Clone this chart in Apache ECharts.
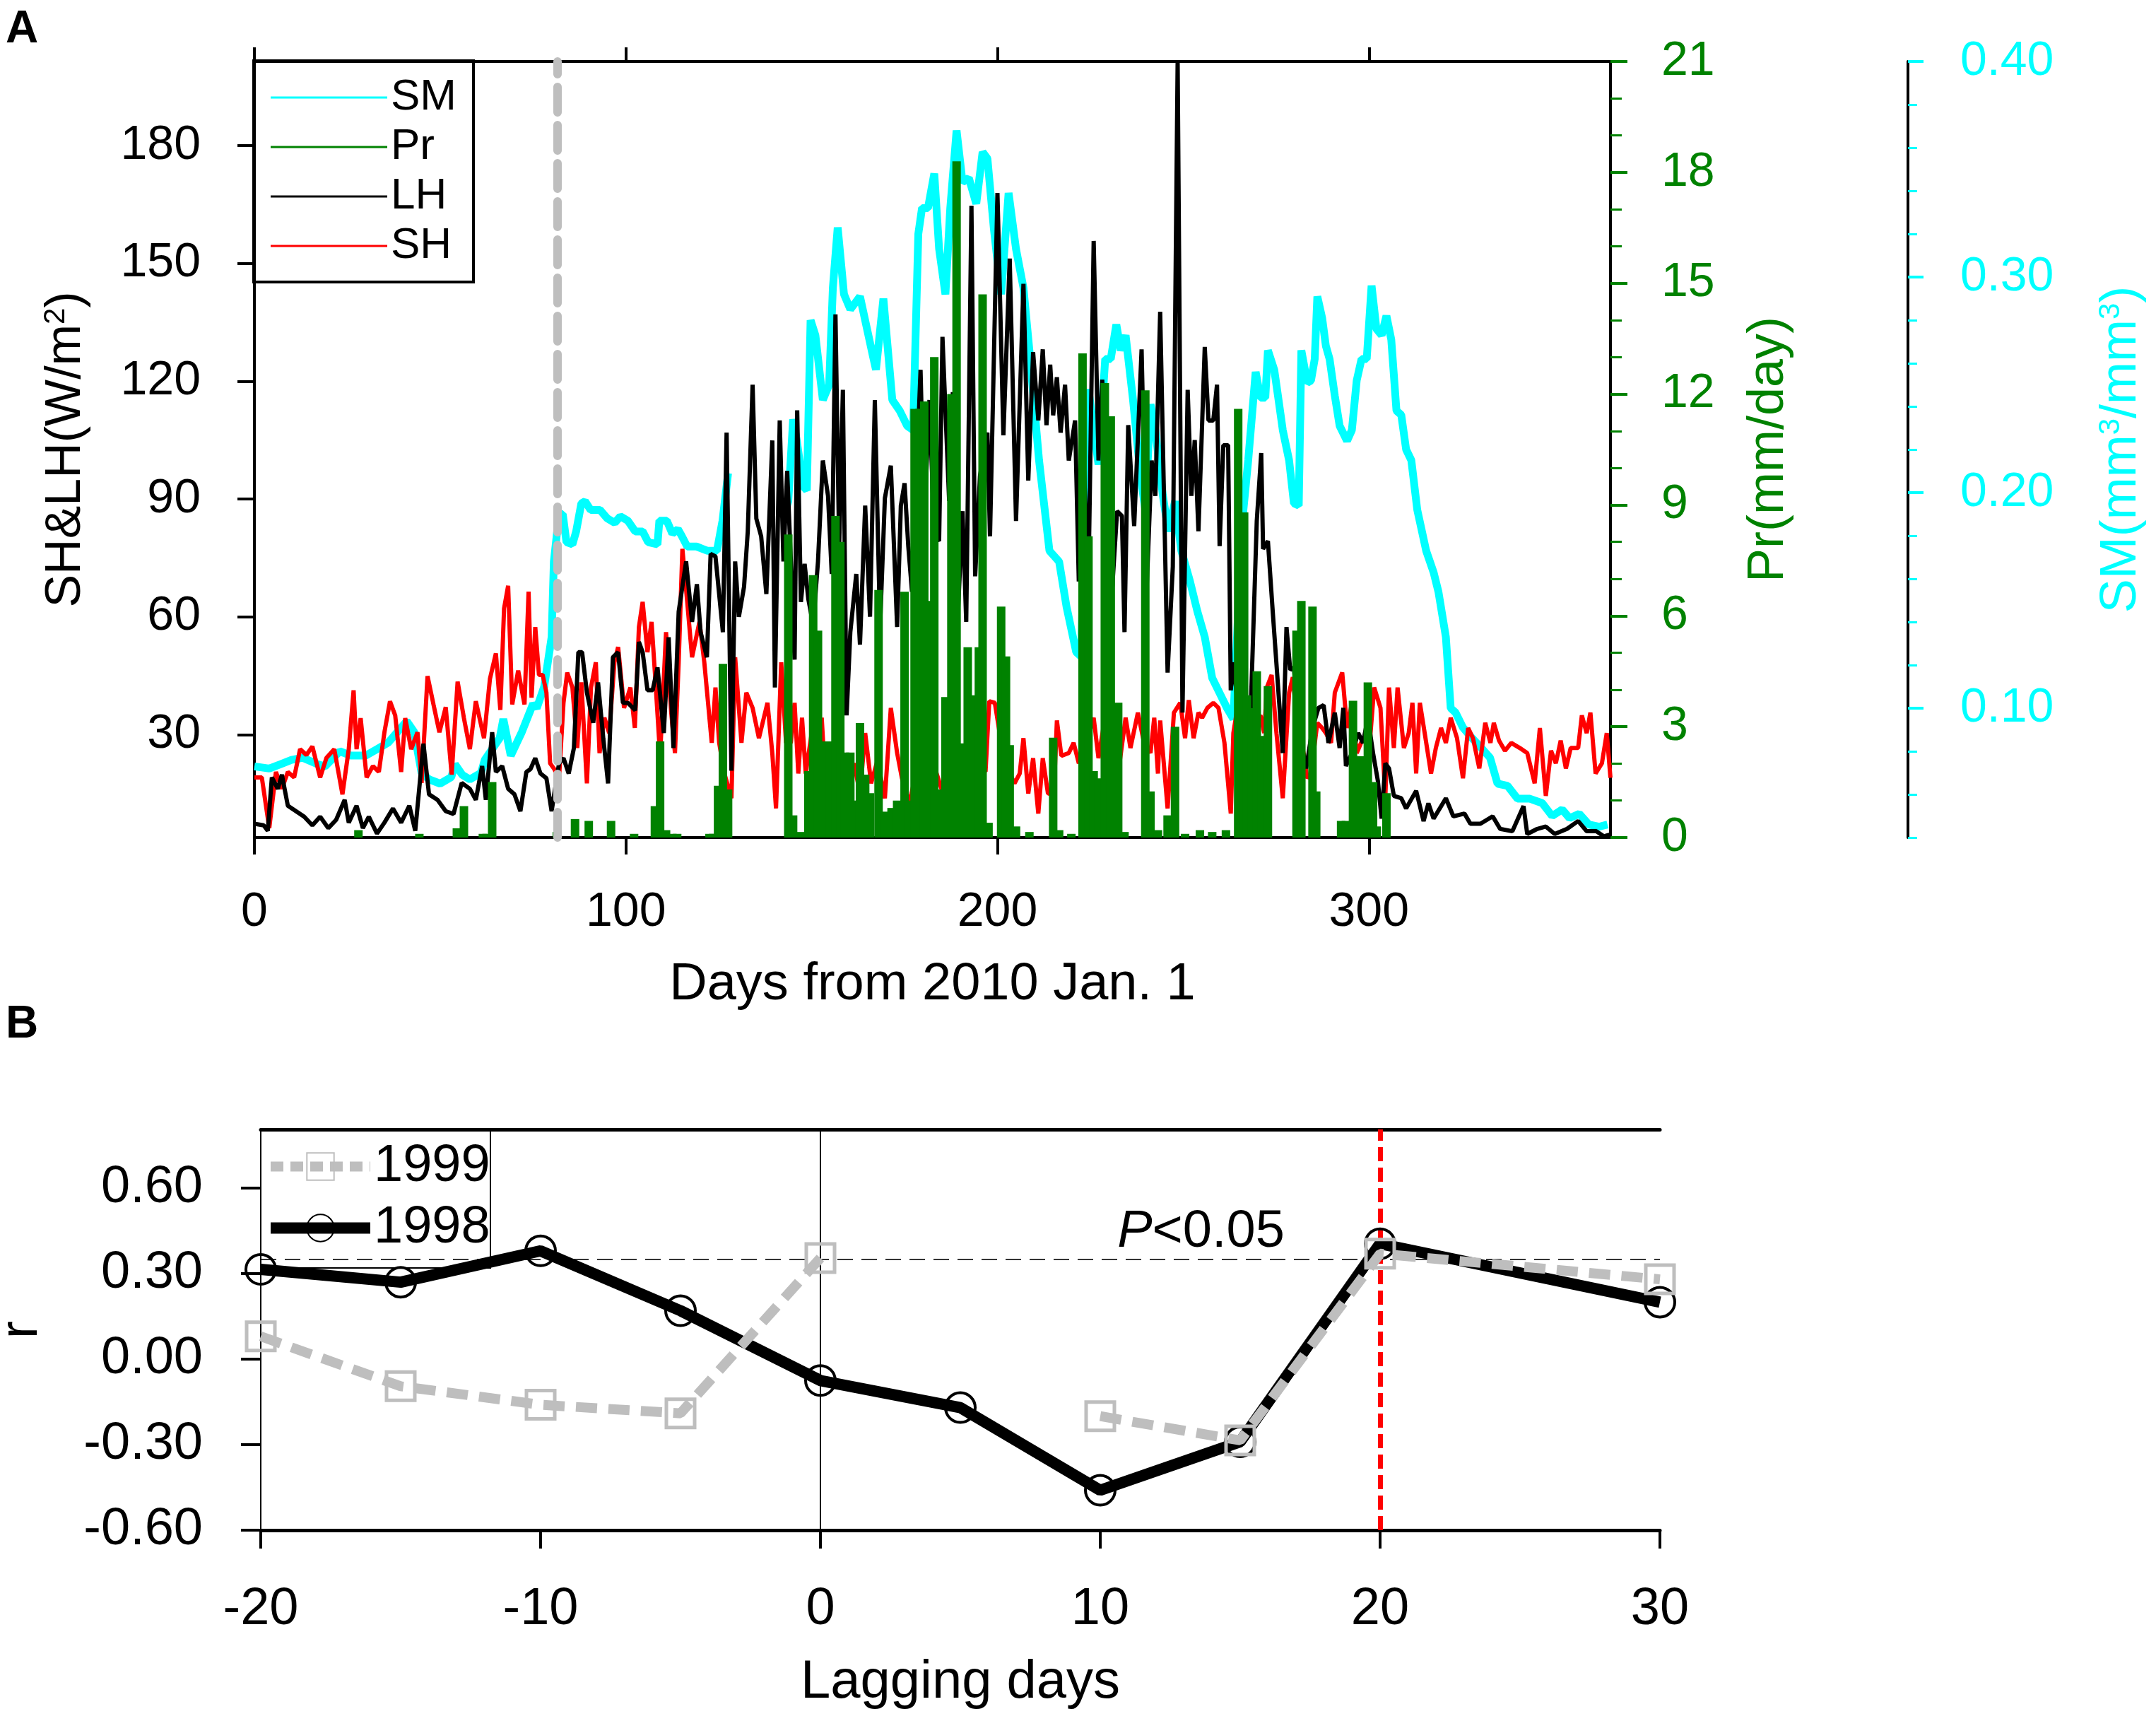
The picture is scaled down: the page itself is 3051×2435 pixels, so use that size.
<!DOCTYPE html>
<html lang="en">
<head>
<meta charset="UTF-8">
<title>SH, LH, SM and Pr</title>
<script src="https://cdn.jsdelivr.net/npm/echarts@6/dist/echarts.min.js"></script>
<style>
	html, body { margin: 0; padding: 0; background: #fff; }
	#main { width: 3051px; height: 2435px; }
</style>
</head>
<body>
<div id="main"></div>
<script>
// ---- panel A : daily series, [day, value] ----
var smData = [
	[0,0.073],[4,0.072],[7,0.074],[10,0.076],[13,0.077],[17,0.074],[19,0.073],[23,0.080],[26,0.078],[30,0.078],
	[33,0.081],[36,0.084],[41,0.094],[43,0.089],[45,0.070],[47,0.067],[50,0.065],[53,0.068],[54,0.074],[56,0.069],
	[58,0.067],[61,0.070],[62,0.076],[66,0.086],[67,0.095],[69,0.078],[72,0.089],[75,0.102],[76,0.100],[78,0.110],
	[80,0.133],[80.6,0.168],[82,0.190],[83,0.190],[84,0.177],[85.6,0.176],[86.6,0.182],[88,0.195],[89,0.196],[90.5,0.192],
	[93,0.192],[95,0.188],[97,0.186],[98.5,0.189],[100.5,0.187],[102.5,0.182],[104.5,0.182],[106,0.177],[108.5,0.176],[109,0.187],
	[111,0.187],[112.5,0.181],[114,0.183],[115,0.180],[116.5,0.175],[119,0.175],[120.5,0.174],[122,0.173],[124.5,0.173],[126,0.187],
	[127.5,0.209],[135,'-'],
	[142.4,0.189],[143.7,0.196],[145,0.234],[146,0.224],[147.7,0.203],[148.7,0.201],[149.7,0.280],[151,0.273],[153,0.243],[154.7,0.250],
	[155.7,0.295],[157,0.323],[158.7,0.292],[160.4,0.285],[163,0.291],[166.4,0.264],[167.3,0.257],[169.3,0.290],[171.7,0.243],[173.7,0.238],
	[175.7,0.231],[177.3,0.229],[178.7,0.320],[179.7,0.332],[181.3,0.332],[183,0.348],[184.3,0.313],[186,0.292],[187.3,0.332],[189,0.368],
	[190.6,0.344],[192.3,0.346],[194.3,0.334],[196,0.358],[197.3,0.355],[199,0.323],[201,0.292],[203,0.339],[205,0.313],[207,0.295],
	[208.6,0.266],[211.2,0.215],[214,0.173],[216.6,0.168],[218.6,0.147],[221.2,0.126],[222.5,0.124],[224.5,0.248],[227.2,0.213],[229,0.262],
	[230.5,0.262],[232,0.278],[233.2,0.266],[234.5,0.273],[236.5,0.243],[238.5,0.208],[239.8,0.192],[241.2,0.241],[242.5,0.229],[244.5,0.199],
	[246,0.182],[247.8,0.196],[249.5,0.173],[251.8,0.159],[253.8,0.145],[255.8,0.133],[257.8,0.114],[259.8,0.107],[261.8,0.100],[263.5,0.095],
	[264.8,0.145],[266.2,0.192],[267.5,0.215],[269.5,0.256],[270.8,0.244],[272.1,0.244],[272.8,0.266],[274.5,0.257],[275.5,0.245],[276.8,0.229],
	[278.5,0.215],[279.8,0.195],[281.1,0.194],[281.8,0.266],[283.4,0.251],[284.4,0.252],[285.4,0.262],[286.1,0.291],[287.4,0.281],[288.4,0.268],
	[289.4,0.262],[290.8,0.245],[292.1,0.231],[294.1,0.224],[295.4,0.229],[296.7,0.252],[298,0.262],[299.4,0.262],[300.7,0.296],[302,0.276],
	[303.4,0.273],[304.7,0.282],[306,0.271],[307.4,0.238],[308.7,0.236],[310,0.220],[311.4,0.215],[313,0.192],[315.4,0.173],[317.4,0.163],
	[318.7,0.154],[320.7,0.133],[322,0.100],[323.3,0.098],[325.3,0.091],[327.3,0.087],[330,0.082],[332.6,0.077],[334.6,0.065],[337.3,0.064],
	[340,0.058],[343.3,0.058],[346.6,0.056],[349.3,0.050],[352,0.053],[354,0.049],[356.6,0.051],[359.2,0.046],[361.9,0.045],[364.2,0.046]
];
var prData = [
	[28,0.2],[44.4,0.1],[54.5,0.25],[56.4,0.85],[61.5,0.1],[62.5,0.1],[64,1.5],[81.4,0.15],[86.3,0.5],[90,0.45],
	[96,0.45],[102.2,0.1],[107.8,0.85],[109.2,2.6],[110.8,0.2],[112.5,0.1],[113.8,0.1],[122.5,0.1],[123.5,0.1],[124.8,1.4],
	[126.1,4.7],[127.5,1.3],[143.7,8.2],[145,0.6],[147.1,0.15],[149.1,1.8],[150.4,7.1],[151.7,5.6],[153.7,2.6],[155,2.6],
	[156.4,8.7],[157.7,8.0],[159,2.3],[160.4,2.3],[161.7,1.0],[163,3.1],[164.4,1.7],[165.7,1.2],[168,6.7],[169.7,0.7],
	[171.5,0.8],[173,1.0],[175,6.65],[176.3,1.0],[177.7,11.6],[179,11.6],[180.3,11.8],[181.3,6.4],[183,13.0],[184,1.3],
	[186,3.8],[187.6,12.0],[189,18.3],[190.3,2.55],[192,5.15],[193.6,3.85],[195,5.15],[196,14.7],[197.6,0.4],[201,6.25],
	[202.3,4.9],[203.3,2.5],[205,0.3],[208.6,0.15],[215,2.7],[216.6,0.2],[219.9,0.1],[222.9,13.1],[224.5,8.15],[225.9,1.8],
	[227.2,1.6],[228.9,12.3],[230.5,11.4],[232.5,3.65],[234.2,0.15],[239.8,12.1],[241.2,1.25],[243.2,0.2],[245.8,0.6],[247.8,3.0],
	[250.5,0.1],[254.5,0.2],[257.8,0.15],[261.5,0.2],[264.8,11.6],[266.4,8.8],[267.2,3.85],[268.5,3.5],[269.8,4.5],[271.1,2.75],
	[272.8,4.1],[280.5,5.6],[281.8,6.4],[284.8,6.25],[285.8,1.25],[292.5,0.45],[293.8,0.45],[295.7,3.7],[297.1,2.2],[298.4,2.2],
	[299.7,4.2],[301.1,1.5],[302.1,0.3],[304.7,1.2]
];
var lhData = [
	[0,7.3],[2.5,6.9],[3.6,5.5],[4.7,19.1],[6.3,16.2],[7.4,19.8],[9,11.9],[11.2,10.5],[13.4,9.1],[15.6,6.9],
	[17.7,9.1],[19.9,6.2],[22,8.3],[24.3,13.4],[25.4,7.6],[27.5,11.9],[29.2,6.2],[30.8,9.1],[33,4.8],[35,7.6],
	[37.3,11.2],[39.5,7.6],[41.7,11.9],[43.3,5.5],[45.5,27.7],[47,14.8],[49.3,13.4],[51.5,10.5],[53.6,9.8],[55.8,17.7],
	[58,16.2],[59.6,13.4],[61.3,22],[62.3,13.4],[64,30.6],[65,20.5],[66.7,22],[68.3,16.2],[70,14.8],[71.6,10.5],
	[73.2,20.5],[74.3,21.2],[75.6,24],[77,20.1],[78.6,18.9],[80,10.5],[82,22.7],[83.2,24],[84.6,20.1],[86,26.6],
	[87.2,51],[88.2,51],[89.5,40.7],[91.2,33],[92.5,43.3],[93.9,29.1],[95.2,17.6],[96.5,49.7],[97.9,51],[99.2,38.1],
	[100.5,38.1],[102.5,36.2],[103.5,53.6],[104.5,51],[105.8,41.3],[107.2,41.3],[108.5,47.1],[110.2,30.4],[111.5,54.8],[112.8,26.6],
	[114.2,61.3],[116.2,74.1],[117.8,58.7],[119.1,68.3],[120.1,56.1],[121.8,49.7],[122.8,76],[124.1,75.4],[126.1,56.1],[127.1,106.9],
	[128.4,20.8],[129.4,74.1],[130.4,60],[131.8,67.7],[132.8,81.8],[134.1,119.1],[135.1,85],[136.4,80.5],[137.8,65.8],[139.4,104.9],
	[140.1,42],[141.4,110],[142.4,74.1],[143.4,97.2],[144.4,74.1],[145.4,49.1],[146.1,112.6],[147.1,63.8],[148.1,73.5],[149.1,64.5],
	[150.4,58],[151.7,74.1],[153,99.8],[154.4,90.8],[155.4,70.9],[156.4,137],[157.4,78],[158.4,117.8],[159.4,34.9],[160.4,56.1],
	[162,70.9],[163,52.9],[164.4,88.3],[165.7,60],[167,115.2],[168.4,57.4],[169.7,90.2],[171.3,98.5],[173,57.4],[174,88.3],
	[175,94],[176,78],[177,66.4],[179.3,122.9],[180.3,84.4],[181.7,115.2],[183,80.5],[184.3,79.3],[185.2,131.3],[187,89.5],
	[188,117.2],[189,52.9],[190.6,86.9],[191.6,58.7],[193,164.7],[194,70.3],[195.3,95.9],[197.3,106.9],[198,80.5],[200,167.9],
	[201.6,106.2],[203.3,151.2],[205,84.4],[207,144.8],[208.3,94.7],[209.6,127.4],[211,110],[212.2,128.1],[213.2,108.8],[214.2,124.2],
	[215,111.3],[216,121],[217,106.9],[218.2,119.1],[219.2,99.8],[220.9,110],[221.9,69],[223.2,99.8],[224.5,69],[225.9,155.7],
	[227.2,99.8],[228.2,120.4],[229.2,105],[230.5,61.3],[232.2,86.9],[233.5,85.7],[234.2,56.1],[235.2,108.8],[236.8,83.1],[238.8,128.1],
	[240.2,67.7],[241.5,99.8],[242.5,90.8],[243.8,137.7],[245.8,45.8],[247.2,72.8],[248.5,201.3],[249.8,35.6],[251.2,117.8],[252.2,90.8],
	[253.1,105],[254.1,81.8],[255.8,128.7],[256.8,110],[258.1,110],[259.1,119.1],[259.8,78],[260.8,103.7],[262.1,103.7],[262.8,41.3],
	[263.5,48.4],[264.8,36.8],[266.5,35.6],[268.2,36.8],[269.8,84.4],[271,101.7],[271.5,77.3],[272.8,79.3],[274.1,61.3],[276.8,25.3],
	[277.8,57.4],[278.8,46.5],[279.8,47.1],[281.5,29.1],[283.1,21.4],[284.8,31.7],[286.4,36.8],[287.8,37.5],[289.1,27.9],[290.8,35.6],
	[292.1,26.6],[293.1,36.8],[293.8,22],[295.4,25.3],[297.1,30.4],[298.4,27.9],[299.7,34.3],[301.1,25.3],[302.4,18.2],[303.4,8.6],
	[304.4,22.7],[305.4,21.4],[306.7,14.4],[308.7,13.8],[310,11.2],[312.7,15.7],[314.7,8],[316,12.5],[317.4,8.6],[320.7,13.8],
	[322.7,9.2],[325.7,9.9],[327.3,7.3],[330,7.3],[333.3,9.2],[335.3,6],[338.6,5.4],[341.6,11.8],[342.6,4.7],[345.3,6],
	[347.6,6.6],[350,4.7],[353.3,6],[356.3,8],[358.6,5.4],[361.2,5.4],[363.2,4.1],[365,4.6]
];
var shData = [
	[0,19.1],[2,19.1],[4,6.2],[5.8,20.5],[7.4,16.2],[9,20.5],[10.7,19.1],[12.3,26.3],[14,24.8],[15.6,27],
	[17.7,19.1],[19.4,24.1],[21.5,26.3],[23.7,14.8],[25.4,26.3],[26.7,41.3],[27.5,26.3],[28.6,34.2],[30.2,19.1],[31.9,22],
	[33.5,20.5],[35,30.6],[36.5,38.5],[37.9,34.9],[39.5,20.5],[40.6,34.2],[42.2,26.3],[43.9,30.6],[45,17.7],[46.6,44.9],
	[48.2,37.7],[49.8,30.6],[51.5,37],[53.1,19.8],[54.7,43.5],[56.4,34.2],[58,26.3],[59.6,38.5],[61.8,29.1],[63.4,44.2],
	[65,50.7],[66.2,36.3],[67.2,62.1],[68.3,67.9],[69.4,37.7],[71,46.3],[72.7,37.7],[73.8,66.4],[74.6,39.4],[75.6,57.4],
	[76.6,45.2],[77.6,45.2],[78.6,40.7],[79.6,22.7],[80.6,21.4],[82,18.9],[83.2,38.1],[84.2,45.8],[85.6,42],[86.9,26.6],
	[88,43.3],[89.5,17.6],[90.6,42],[91.9,48.4],[92.9,25.3],[94.2,34.3],[95.5,30.4],[96.9,48.4],[97.9,52.3],[99.5,36.8],
	[101.2,42],[102.4,31.7],[103.5,57.4],[104.5,63.8],[105.8,51],[106.9,58.7],[107.8,45.8],[109.2,24.6],[110.8,56.1],[112.2,35.6],
	[113.2,25.3],[114.2,48.4],[115.2,77.3],[116.5,63.8],[117.8,49.7],[119.8,58.7],[121.1,48.4],[123.1,27.9],[124.1,42],[125.1,27.9],
	[126.5,20.1],[128.4,13.8],[129.4,49.7],[131.1,27.9],[132.4,40.7],[134.1,36.8],[135.8,29.1],[138.1,38.1],[139.4,25.3],[140.4,11.2],
	[141.8,48.4],[143.1,27.9],[144.4,27.9],[145.4,38.1],[146.4,20.1],[147.4,34.3],[148.4,20.1],[150,30.4],[151.4,24],[152.7,34.3],
	[153.7,17.6],[155.4,27.9],[157.1,17.6],[158.4,25.3],[159.7,18.9],[161.4,22.7],[163,15],[164.4,30.4],[166,17.6],[167.7,23.4],
	[169.7,13.8],[171.3,36.8],[173,25.3],[174.3,18.9],[176.3,12.4],[178,20.1],[179.5,28],[181,18],[183,22],[185,16],
	[187,24],[189,19],[191,23],[193,17],[195,21],[196.8,20.6],[197.8,38.5],[199.3,38.1],[200.6,30.4],[202,25.3],
	[203.3,20.1],[204.6,17.6],[206,20.1],[207,29.1],[208.3,15],[209.6,24],[211,9.9],[212.2,24],[213.6,15],[215.2,15],
	[216,33.6],[217.2,24.6],[219.2,25.3],[220.5,27.9],[221.9,22.7],[223.9,27.9],[225.9,34.3],[227.2,24],[228.5,31.7],[230.2,29.1],
	[232.5,20.1],[234.5,34.3],[235.8,26.6],[237.8,35.6],[239.2,29.1],[241.2,25.3],[242.2,34.3],[243.2,20.1],[243.8,33.6],[245.8,11.2],
	[247.5,35.6],[249.2,38.1],[250.5,29.1],[251.5,38.8],[252.8,29.1],[254.1,35.6],[255.1,34.3],[256.5,36.8],[258.1,38.1],[259.5,36.8],
	[261.1,27.9],[262.8,9.9],[263.5,30.4],[264.8,38.1],[266.5,27.9],[268.8,33],[270.8,34.9],[271.8,30.4],[272.5,42],[273.8,45.2],
	[275.1,30.4],[276.8,13.8],[278.5,40.7],[279.5,44.6],[280.8,31.7],[282.4,25.3],[283.4,18.9],[284.4,20.1],[286.1,33],[287.4,31.7],
	[288.4,30.4],[289.8,27.9],[290.8,40.7],[292.8,45.8],[294.1,31.7],[295.4,38.1],[296.7,25.3],[298.4,29.1],[300.1,26.6],[301.4,42],
	[303.1,36.8],[304.4,13.8],[305.4,42],[306.7,26.6],[307.7,42],[309.4,26.6],[310.7,30.4],[311.7,38.1],[312.7,20.1],[313.7,38.1],
	[315,30.4],[316.7,20.1],[318,26.6],[319.4,31.7],[320.7,27.9],[322,34.3],[323.7,29.1],[325.3,18.9],[326.7,31.7],[328,29.1],
	[329.7,21.4],[331.3,33],[332.7,27.9],[333.6,33],[335,28.5],[336.6,25.9],[338.3,27.9],[340.6,26.6],[342.6,25.3],[344.6,17.6],
	[346,31.7],[347.6,14.4],[349,25.9],[350.3,22.7],[351.6,28.5],[353,21.4],[354.3,26.6],[356.3,26.6],[357.3,34.9],[358.6,30.4],
	[359.6,35.6],[361,20.1],[362.7,22.7],[364,30.4],[365,19]
];
var dayTicks = [0, 100, 200, 300];
var fluxTicks = [30, 60, 90, 120, 150, 180];
var smTicks = [0.10, 0.20, 0.30, 0.40];
var dryDay = 81.5;

// ---- panel B : lag correlation ----
var lag1998 = [-20, -15, -10, -5, 0, 5, 10, 15, 20, 30];
var r1998 = [0.315, 0.27, 0.38, 0.17, -0.075, -0.17, -0.46, -0.29, 0.405, 0.20];
var lag1999 = [-20, -15, -10, -5, 0, 5, 10, 15, 20, 30];
var r1999 = [0.08, -0.095, -0.16, -0.19, 0.355, '-', -0.20, -0.285, 0.37, 0.28];
var rTicks = [-0.6, -0.3, 0, 0.3, 0.6];
var sigLevel = 0.35;
var markLag = 20;

var FONT = 'Liberation Sans';

function pairs(xs, ys) {
	return xs.map(function (x, i) { return [x, ys[i]]; });
}

var chart = echarts.init(document.getElementById('main'), null, { renderer: 'canvas' });

var option = {
	animation: false,
	backgroundColor: '#fff',
	textStyle: { fontFamily: FONT },
	grid: [
		{ left: 360, top: 87, width: 1919, height: 1098, containLabel: false, outerBoundsMode: 'none' },
		{ left: 369, top: 1598, width: 1980, height: 567, containLabel: false, outerBoundsMode: 'none' }
	],
	legend: [
		{
			data: ['SM', 'Pr', 'LH', 'SH'],
			orient: 'vertical', left: 383, top: 103, padding: 0, itemGap: 0,
			icon: 'rect', itemWidth: 165, itemHeight: 3,
			textStyle: { fontFamily: FONT, fontSize: 62, color: '#000', lineHeight: 70 }
		},
		{
			data: [
				{ name: '1999', lineStyle: { color: '#bebebe', width: 14, type: [18, 10] } },
				{ name: '1998', lineStyle: { color: '#000', width: 16 } }
			],
			orient: 'vertical', left: 375, top: 1607, padding: 0, itemGap: 0,
			itemWidth: 141, itemHeight: 48,
			textStyle: { fontFamily: FONT, fontSize: 74, color: '#000', lineHeight: 87 }
		}
	],
	xAxis: [
		{
			gridIndex: 0, type: 'value', min: 0, max: 365, position: 'bottom',
			axisLine: { onZero: false, lineStyle: { color: '#000', width: 4 } },
			axisTick: { customValues: dayTicks, length: 24, lineStyle: { color: '#000', width: 4 } },
			axisLabel: { customValues: dayTicks, fontSize: 68, color: '#000', margin: 72, fontFamily: FONT },
			splitLine: { show: false },
			name: 'Days from 2010 Jan. 1', nameLocation: 'middle', nameGap: 172,
			nameTextStyle: { fontSize: 74, color: '#000', fontFamily: FONT }
		},
		{
			gridIndex: 0, type: 'value', min: 0, max: 365, position: 'top',
			axisLine: { onZero: false, lineStyle: { color: '#000', width: 4 } },
			axisTick: { customValues: dayTicks, length: 20, lineStyle: { color: '#000', width: 4 } },
			axisLabel: { show: false },
			splitLine: { show: false }
		},
		{
			gridIndex: 1, type: 'value', min: -20, max: 30, interval: 10, position: 'bottom',
			axisLine: { onZero: false, lineStyle: { color: '#000', width: 5 } },
			axisTick: { length: 26, lineStyle: { color: '#000', width: 4 } },
			axisLabel: { fontSize: 74, color: '#000', margin: 76, fontFamily: FONT },
			splitLine: { show: false },
			name: 'Lagging days', nameLocation: 'middle', nameGap: 178,
			nameTextStyle: { fontSize: 76, color: '#000', fontFamily: FONT }
		},
		{
			gridIndex: 1, type: 'value', min: -20, max: 30, position: 'top',
			axisLine: { onZero: false, lineStyle: { color: '#000', width: 5 } },
			axisTick: { show: false }, axisLabel: { show: false }, splitLine: { show: false }
		}
	],
	yAxis: [
		{
			gridIndex: 0, type: 'value', min: 3.8, max: 201.4, position: 'left',
			axisLine: { show: true, onZero: false, lineStyle: { color: '#000', width: 4 } },
			axisTick: { show: true, customValues: fluxTicks, length: 24, lineStyle: { color: '#000', width: 4 } },
			axisLabel: { customValues: fluxTicks, fontSize: 68, color: '#000', margin: 76, fontFamily: FONT },
			splitLine: { show: false },
			name: 'SH&LH(W/m{sup|2})', nameLocation: 'middle', nameRotate: 90, nameGap: 230,
			nameTextStyle: { fontSize: 70, color: '#000', fontFamily: FONT,
				rich: { sup: { fontSize: 42, color: '#000', fontFamily: FONT, verticalAlign: 'top', padding: [0, 0, 30, 0] } } }
		},
		{
			gridIndex: 0, type: 'value', min: 0, max: 21, interval: 3, position: 'right', offset: 0,
			axisLine: { show: true, onZero: false, lineStyle: { color: '#000', width: 4 } },
			axisTick: { show: true, length: 24, lineStyle: { color: '#008200', width: 4 } },
			minorTick: { show: true, splitNumber: 3, length: 16, lineStyle: { color: '#008200', width: 3 } },
			axisLabel: { fontSize: 68, color: '#008200', margin: 72, fontFamily: FONT },
			splitLine: { show: false }, minorSplitLine: { show: false },
			name: 'Pr(mm/day)', nameLocation: 'middle', nameRotate: 90, nameGap: 188,
			nameTextStyle: { fontSize: 72, color: '#008200', fontFamily: FONT }
		},
		{
			gridIndex: 0, type: 'value', min: 0.04, max: 0.40, position: 'right', offset: 421,
			axisLine: { show: true, onZero: false, lineStyle: { color: '#000', width: 4 } },
			axisTick: { show: true, customValues: smTicks, length: 22, lineStyle: { color: '#00ffff', width: 4 } },
			axisLabel: { customValues: smTicks, fontSize: 68, color: '#00ffff', margin: 74, fontFamily: FONT,
				formatter: function (v) { return v.toFixed(2); } },
			splitLine: { show: false },
			name: 'SM(mm{sup|3}/mm{sup|3})', nameLocation: 'middle', nameRotate: 90, nameGap: 266,
			nameTextStyle: { fontSize: 72, color: '#00ffff', fontFamily: FONT,
				rich: { sup: { fontSize: 42, color: '#00ffff', fontFamily: FONT, verticalAlign: 'top', padding: [0, 0, 30, 0] } } }
		},
		{
			// minor ticks of the SM axis
			gridIndex: 0, type: 'value', min: 0.04, max: 0.40, interval: 0.02, position: 'right', offset: 421,
			axisLine: { show: false, onZero: false },
			axisTick: { show: true, length: 13, lineStyle: { color: '#00ffff', width: 3 } },
			axisLabel: { show: false }, splitLine: { show: false }
		},
		{
			gridIndex: 1, type: 'value', min: -0.6, max: 0.806, position: 'left',
			axisLine: { show: true, onZero: false, lineStyle: { color: '#000', width: 2 } },
			axisTick: { show: true, customValues: rTicks, length: 28, lineStyle: { color: '#000', width: 4 } },
			axisLabel: { customValues: rTicks, fontSize: 74, color: '#000', margin: 82, fontFamily: FONT,
				formatter: function (v) { return v.toFixed(2); } },
			splitLine: { show: false },
			name: 'r', nameLocation: 'middle', nameRotate: 90, nameGap: 300,
			nameTextStyle: { fontSize: 76, color: '#000', fontFamily: FONT }
		}
	],
	series: [
		{
			name: 'SM', type: 'line', xAxisIndex: 0, yAxisIndex: 2, z: 1,
			data: smData, showSymbol: false, symbol: 'none', connectNulls: false,
			color: '#00ffff', lineStyle: { color: '#00ffff', width: 11 }
		},
		{
			name: 'SH', type: 'line', xAxisIndex: 0, yAxisIndex: 0, z: 2,
			data: shData, showSymbol: false, symbol: 'none',
			color: '#ff0000', lineStyle: { color: '#ff0000', width: 6 }
		},
		{
			name: 'LH', type: 'line', xAxisIndex: 0, yAxisIndex: 0, z: 3,
			data: lhData, showSymbol: false, symbol: 'none',
			color: '#000', lineStyle: { color: '#000', width: 6 },
			markLine: {
				silent: true, symbol: ['none', 'none'], label: { show: false },
				lineStyle: { color: '#bebebe', width: 12, type: [36, 18], cap: 'round' },
				data: [{ xAxis: dryDay }]
			}
		},
		{
			name: 'Pr', type: 'bar', xAxisIndex: 0, yAxisIndex: 1, z: 4,
			data: prData, barWidth: 12, color: '#008200', itemStyle: { color: '#008200' }
		},
		{
			name: '1998', type: 'line', xAxisIndex: 2, yAxisIndex: 4, z: 5,
			data: pairs(lag1998, r1998), symbol: 'circle', symbolSize: 42,
			color: '#000',
			lineStyle: { color: '#000', width: 16 },
			itemStyle: { color: 'rgba(255,255,255,0)', borderColor: '#000', borderWidth: 4 },
			markLine: {
				silent: true, symbol: ['none', 'none'], label: { show: false },
				data: [
					{ xAxis: 0, lineStyle: { color: '#000', width: 2, type: 'solid' } },
					{ yAxis: sigLevel, lineStyle: { color: '#333', width: 2, type: [22, 12] } },
					{ xAxis: markLag, lineStyle: { color: '#ff0000', width: 7, type: [20, 9] } }
				]
			}
		},
		{
			name: '1999', type: 'line', xAxisIndex: 2, yAxisIndex: 4, z: 6,
			data: pairs(lag1999, r1999), symbol: 'rect', symbolSize: 40, connectNulls: false,
			color: '#bebebe',
			lineStyle: { color: '#bebebe', width: 14, type: [30, 16] },
			itemStyle: { color: 'rgba(255,255,255,0)', borderColor: '#bebebe', borderWidth: 5 }
		}
	]
};

chart.setOption(option);

// annotations placed through the grid's own coordinate system
var pText = chart.convertToPixel({ gridIndex: 1 }, [13.6, 0.445]);
chart.setOption({
	graphic: [
		{ type: 'text', left: 8, top: 10, style: { text: 'A', font: 'bold 64px "Liberation Sans"', fill: '#000' } },
		{ type: 'text', left: 8, top: 1418, style: { text: 'B', font: 'bold 64px "Liberation Sans"', fill: '#000' } },
		{ type: 'rect', shape: { x: 359, y: 86, width: 311, height: 313 }, z: 10,
			style: { fill: 'none', stroke: '#000', lineWidth: 4 } },
		{ type: 'rect', shape: { x: 369, y: 1598, width: 325, height: 196 }, z: 10,
			style: { fill: 'none', stroke: '#000', lineWidth: 2 } },
		{ type: 'text', x: pText[0], y: pText[1], z: 10,
			style: { text: '{i|P}<0.05', font: '74px "Liberation Sans"', fill: '#000', align: 'center', verticalAlign: 'middle',
				rich: { i: { fontStyle: 'italic', fontSize: 74, fontFamily: FONT, fill: '#000' } } } }
	]
});
</script>
</body>
</html>
